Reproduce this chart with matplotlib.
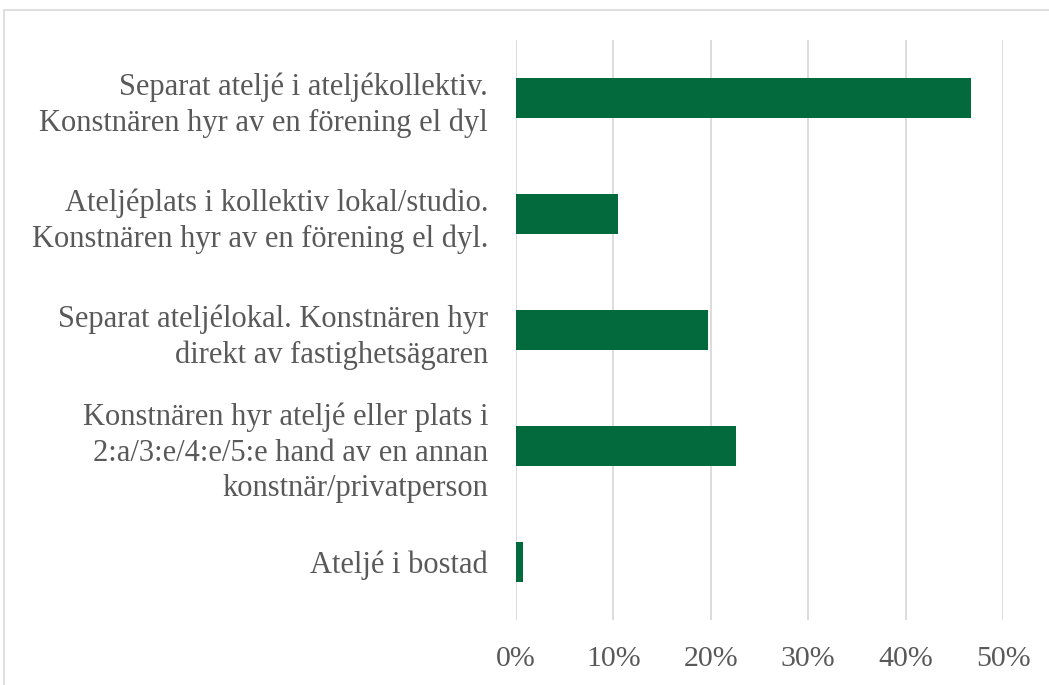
from matplotlib import pyplot as plt
from matplotlib.patches import Rectangle
import numpy as np

categories = [
    "Separat ateljé i ateljékollektiv.\nKonstnären hyr av en förening el dyl",
    "Ateljéplats i kollektiv lokal/studio.\nKonstnären hyr av en förening el dyl.",
    "Separat ateljélokal. Konstnären hyr\ndirekt av fastighetsägaren",
    "Konstnären hyr ateljé eller plats i\n2:a/3:e/4:e/5:e hand av en annan\nkonstnär/privatperson",
    "Ateljé i bostad",
]
shares = [0.467, 0.105, 0.197, 0.226, 0.007]
xticks = [0.0, 0.1, 0.2, 0.3, 0.4, 0.5]
xtick_labels = ["0%", "10%", "20%", "30%", "40%", "50%"]

#--------------------------------------------------------------------------------------------------
def main():
    plt.rcParams['font.family'] = ['Liberation Serif', 'DejaVu Serif']
    txt_color = '#595959'
    bar_color = '#026a3c'

    fig = plt.figure(figsize=(10.49, 6.85), dpi=100)
    fig.patches.append(Rectangle((4/1049, -0.1), 1.1, 1 - 10/685 + 0.1, transform=fig.transFigure,
                                 fill=False, edgecolor='#d9d9d9', linewidth=1.2))
    ax = fig.add_axes([516/1049, 1 - 620/685, (1003 - 516)/1049, 580/685])

    y = np.arange(len(categories))
    ax.barh(y, shares, height=0.35, color=bar_color, zorder=3)
    ax.set_ylim(len(categories) - 0.5, -0.5)
    ax.set_xlim(0, 0.5)

    ax.set_xticks(xticks)
    ax.set_xticklabels(xtick_labels, fontsize=21.5, color=txt_color)
    ax.set_yticks(y)
    ax.set_yticklabels(categories, fontsize=22, color=txt_color, linespacing=1.3)
    ax.tick_params(axis='both', length=0)
    ax.tick_params(axis='y', pad=20)
    ax.tick_params(axis='x', pad=19)
    ax.grid(axis='x', color='#d9d9d9', linewidth=1.3, zorder=0)
    for s in ax.spines.values():
        s.set_visible(False)

    plt.savefig('out.png', dpi=100)
#--------------------------------------------------------------------------------------------------

if __name__=='__main__':
    main()
